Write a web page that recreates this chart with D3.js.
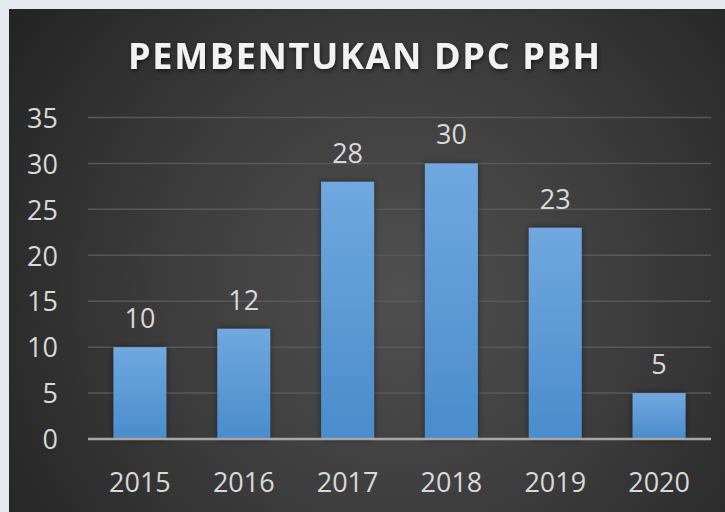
<!DOCTYPE html>
<html><head><meta charset="utf-8">
<script src="https://cdn.jsdelivr.net/npm/d3@7"></script>
<style>html,body{margin:0;padding:0;background:#e4e8ef;}svg{display:block;}</style>
</head><body>
<script>
const categories = ["2015","2016","2017","2018","2019","2020"];
const values = [10,12,28,30,23,5];
const yTicks = [0,5,10,15,20,25,30,35];
const title = "PEMBENTUKAN DPC PBH";

const W = 725, H = 512;
const svg = d3.select("body").append("svg").attr("width", W).attr("height", H);
const defs = svg.append("defs");

const bg = defs.append("radialGradient").attr("id","bg")
  .attr("gradientUnits","userSpaceOnUse").attr("cx",400).attr("cy",290).attr("r",480);
bg.append("stop").attr("offset","0%").attr("stop-color","#505050");
bg.append("stop").attr("offset","45%").attr("stop-color","#3e3e3e");
bg.append("stop").attr("offset","100%").attr("stop-color","#232323");

const bar = defs.append("linearGradient").attr("id","bar").attr("x1",0).attr("y1",0).attr("x2",0).attr("y2",1);
bar.append("stop").attr("offset","0%").attr("stop-color","#70a8df");
bar.append("stop").attr("offset","100%").attr("stop-color","#4a8ccc");

const sh = defs.append("filter").attr("id","sh").attr("x","-20%").attr("y","-20%").attr("width","140%").attr("height","140%");
sh.append("feDropShadow").attr("dx",1).attr("dy",2).attr("stdDeviation",2).attr("flood-color","#000").attr("flood-opacity",0.55);
const bsh = defs.append("filter").attr("id","bsh").attr("x","-30%").attr("y","-10%").attr("width","160%").attr("height","120%");
bsh.append("feDropShadow").attr("dx",0).attr("dy",0).attr("stdDeviation",3).attr("flood-color","#000").attr("flood-opacity",0.45);

svg.append("rect").attr("x",9).attr("y",9).attr("width",W-9).attr("height",H-9).attr("fill","url(#bg)");

const x = d3.scaleBand().domain(categories).range([88,711]).paddingInner(0.49).paddingOuter(0.245);
const y = d3.scaleLinear().domain([0,35]).range([439,117.5]);

const font = "'Open Sans', sans-serif";
const fs = 27;

// gridlines
svg.append("g").selectAll("line").data(yTicks.filter(d=>d>0)).join("line")
  .attr("x1",88).attr("x2",711).attr("y1",d=>y(d)).attr("y2",d=>y(d))
  .attr("stroke","#585858").attr("stroke-width",1.5);

// y axis labels
const yAxis = d3.axisLeft(y).tickValues(yTicks).tickSize(0).tickPadding(0);
const gy = svg.append("g").attr("transform","translate(58,0)").call(yAxis);
gy.select(".domain").remove();
gy.selectAll("text").attr("font-family",font).attr("font-size",fs).attr("fill","#d9d9d9").attr("dy","0.36em");

// bars
svg.append("g").selectAll("rect").data(values).join("rect")
  .attr("x",(d,i)=>x(categories[i])).attr("width",x.bandwidth())
  .attr("y",d=>y(d)).attr("height",d=>y(0)-y(d))
  .attr("fill","url(#bar)").attr("filter","url(#bsh)");

// x axis
const xAxis = d3.axisBottom(x).tickSize(0).tickPadding(0);
const gx = svg.append("g").attr("transform","translate(0,439)").call(xAxis);
gx.select(".domain").attr("stroke","#a6a6a6").attr("stroke-width",2.5).attr("d","M88,0H711");
gx.selectAll("text").attr("font-family",font).attr("font-size",fs).attr("fill","#d9d9d9").attr("dy",0).attr("y",53);

// value labels
svg.append("g").selectAll("text").data(values).join("text")
  .attr("x",(d,i)=>x(categories[i])+x.bandwidth()/2).attr("y",d=>y(d)-19)
  .attr("text-anchor","middle").attr("font-family",font).attr("font-size",fs).attr("fill","#d9d9d9")
  .text(d=>d);

// title
svg.append("text").attr("x",364).attr("y",69).attr("text-anchor","middle")
  .attr("font-family",font).attr("font-weight","bold").attr("font-size",36)
  .attr("fill","#f2f2f2").attr("filter","url(#sh)")
  .attr("textLength",472).attr("lengthAdjust","spacing")
  .text(title);
</script>
</body></html>
